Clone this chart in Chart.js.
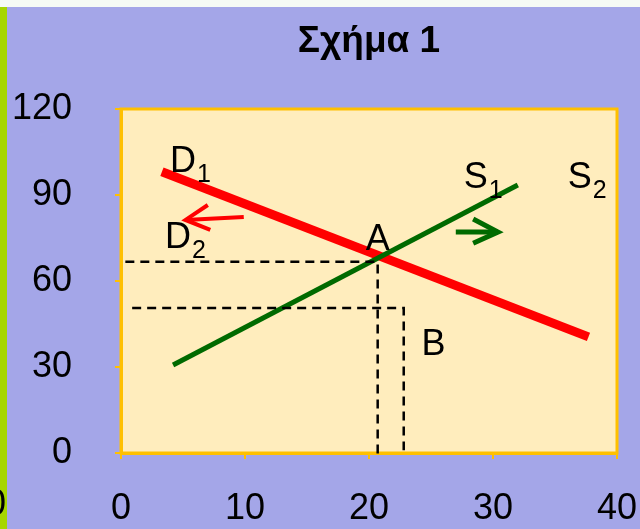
<!DOCTYPE html>
<html>
<head>
<meta charset="utf-8">
<script src="https://cdn.jsdelivr.net/npm/chart.js@4.4.1/dist/chart.umd.min.js"></script>
<style>
  html, body { margin: 0; padding: 0; background: #a4a6e8; }
  #wrap { width: 640px; height: 529px; }
</style>
</head>
<body>
<div id="wrap"><canvas id="chart" width="640" height="529"></canvas></div>
<script>
// axis ranges / ticks
const xTicks = [0, 10, 20, 30, 40];
const yTicks = [0, 30, 60, 90, 120];

// demand D1 and supply S1
const d1X = [3.3, 37.7];
const d1Y = [98.1, 40.5];
const s1X = [4.2, 32.0];
const s1Y = [30.7, 93.5];

// dashed guides to point A and point B
const guideAX = [0.35, 20.7, 20.7];
const guideAY = [66.7, 66.7, -1.5];
const guideBX = [0.9, 22.8, 22.8];
const guideBY = [50.6, 50.6, 1.0];

// shift arrows (shaft + head)
const redShaftX = [9.9, 5.2];
const redShaftY = [82.3, 81.3];
const redHeadX = [7.0, 5.2, 7.2];
const redHeadY = [86.5, 81.3, 77.8];
const greenShaftX = [27.0, 30.4];
const greenShaftY = [77.1, 77.1];
const greenHeadX = [28.4, 30.4, 28.4];
const greenHeadY = [81.6, 77.1, 73.2];

// text labels on the plot
const labelText = ["D", "D", "A", "S", "S", "B"];
const labelSub = ["1", "2", "", "1", "2", ""];
const labelX = [5.0, 4.6, 20.7, 28.6, 37.0, 25.2];
const labelY = [101.5, 75.0, 74.3, 95.9, 95.9, 37.7];

const chartTitle = "Σχήμα 1";

function pts(xs, ys) {
  return xs.map((x, i) => ({ x: x, y: ys[i] }));
}

function line(xs, ys, color, width, dash) {
  return {
    data: pts(xs, ys),
    showLine: true,
    borderColor: color,
    borderWidth: width,
    borderDash: dash || [],
    pointRadius: 0,
    fill: false,
  };
}

const FONT = "'Liberation Sans', 'DejaVu Sans', sans-serif";
const ORANGE = "#ffc000";

const decorPlugin = {
  id: "decor",
  beforeDraw(chart) {
    const ctx = chart.ctx;
    const a = chart.chartArea;
    ctx.save();
    ctx.fillStyle = "#a4a6e8";
    ctx.fillRect(0, 0, chart.width, chart.height);
    ctx.fillStyle = "#f5faf5";
    ctx.fillRect(0, 0, chart.width, 7);
    ctx.fillStyle = "#a6d600";
    ctx.fillRect(0, 7, 7, chart.height - 7);
    // plot background
    ctx.fillStyle = "#ffedbd";
    ctx.fillRect(a.left, a.top, a.right - a.left, a.bottom - a.top);
    // title, centred over the plot
    ctx.fillStyle = "#000";
    ctx.font = "bold 37px " + FONT;
    ctx.textAlign = "center";
    ctx.textBaseline = "middle";
    ctx.fillText(chartTitle, (a.left + a.right) / 2, 42);
    // clipped leftover label at the far left
    ctx.font = "36px " + FONT;
    ctx.textAlign = "right";
    ctx.fillText("0", 6, 505);
    ctx.restore();
  },
  beforeDatasetsDraw(chart) {
    const ctx = chart.ctx;
    const a = chart.chartArea;
    ctx.save();
    ctx.strokeStyle = ORANGE;
    ctx.lineWidth = 3;
    ctx.strokeRect(a.left, a.top, a.right - a.left, a.bottom - a.top);
    ctx.restore();
  },
  afterDatasetsDraw(chart) {
    const ctx = chart.ctx;
    const xs = chart.scales.x;
    const ys = chart.scales.y;
    ctx.save();
    ctx.fillStyle = "#000";
    ctx.textBaseline = "middle";
    for (let i = 0; i < labelText.length; i++) {
      const px = xs.getPixelForValue(labelX[i]);
      const py = ys.getPixelForValue(labelY[i]);
      ctx.font = "36px " + FONT;
      ctx.textAlign = "center";
      ctx.fillText(labelText[i], px, py);
      if (labelSub[i]) {
        const w = ctx.measureText(labelText[i]).width;
        ctx.font = "25px " + FONT;
        ctx.textAlign = "left";
        ctx.fillText(labelSub[i], px + w / 2 + 1, py + 13);
      }
    }
    ctx.restore();
  },
};

new Chart(document.getElementById("chart"), {
  type: "scatter",
  data: {
    datasets: [
      line(guideAX, guideAY, "#000", 2.5, [9, 6]),
      line(guideBX, guideBY, "#000", 2.5, [9, 6]),
      line(s1X, s1Y, "#006a00", 5),
      line(d1X, d1Y, "#ff0000", 9),
      line(redShaftX, redShaftY, "#ff0000", 4),
      line(redHeadX, redHeadY, "#ff0000", 4),
      line(greenShaftX, greenShaftY, "#006a00", 5),
      line(greenHeadX, greenHeadY, "#006a00", 5),
    ],
  },
  options: {
    responsive: false,
    animation: false,
    events: [],
    clip: 8,
    layout: { padding: { top: 109, right: 23, left: 0, bottom: 0 } },
    plugins: {
      legend: { display: false },
      title: { display: false },
      tooltip: { enabled: false },
    },
    scales: {
      x: {
        type: "linear",
        min: xTicks[0],
        max: xTicks[xTicks.length - 1],
        afterBuildTicks: (s) => { s.ticks = xTicks.map((v) => ({ value: v })); },
        afterFit: (s) => { s.height = 76; s.paddingLeft = 0; s.paddingRight = 0; },
        border: { color: ORANGE, width: 3 },
        grid: { drawOnChartArea: false, drawTicks: true, tickLength: 6, color: ORANGE, lineWidth: 2 },
        ticks: { color: "#000", font: { size: 36, family: FONT }, padding: 28, maxRotation: 0 },
      },
      y: {
        type: "linear",
        min: yTicks[0],
        max: yTicks[yTicks.length - 1],
        afterBuildTicks: (s) => { s.ticks = yTicks.map((v) => ({ value: v })); },
        afterFit: (s) => { s.width = 121; s.paddingTop = 0; s.paddingBottom = 0; },
        border: { color: ORANGE, width: 3 },
        grid: { drawOnChartArea: false, drawTicks: true, tickLength: 6, color: ORANGE, lineWidth: 2 },
        ticks: { color: "#000", font: { size: 36, family: FONT }, padding: 43 },
      },
    },
  },
  plugins: [decorPlugin],
});
</script>
</body>
</html>
